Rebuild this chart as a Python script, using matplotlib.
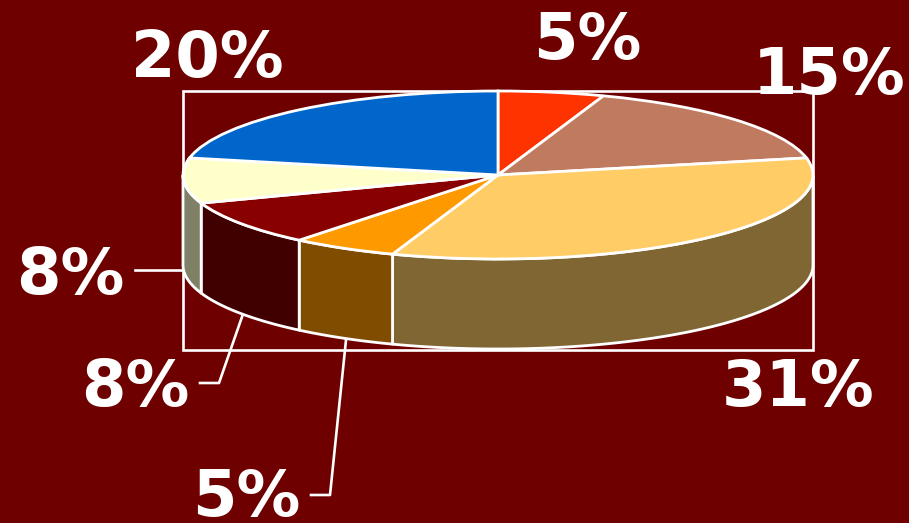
import numpy as np
import matplotlib
matplotlib.use("Agg")
import matplotlib.pyplot as plt
from matplotlib.patches import Polygon, Rectangle

shares = [5, 15, 31, 5, 8, 8, 20]
labels = ["5%", "15%", "31%", "5%", "8%", "8%", "20%"]
top_colors = ["#FF3300", "#BF7A60", "#FFCC66", "#FF9900", "#880000", "#FFFFCC", "#0066CC"]
side_colors = ["#801A00", "#603D30", "#806633", "#804D00", "#400000", "#808066", "#003366"]
label_xy = [(587, 59), (829, 94), (798, 406), (246, 516), (135, 406), (70, 294), (207, 77)]

W, H = 909, 523
BG = "#6F0000"
CX, CY, RX, RY, DEPTH = 498, 175, 315, 84, 90

fig = plt.figure(figsize=(W / 100, H / 100), dpi=100, facecolor=BG)
px = fig.add_axes([0, 0, 1, 1])
px.set_xlim(0, W)
px.set_ylim(H, 0)
px.axis("off")

ax = fig.add_axes([0, 0, 1, 1])
ax.patch.set_alpha(0)

# Side wall: one band per slice, clipped to the front half of the rim
fracs = np.cumsum([0] + shares) / sum(shares)
for i in range(len(shares)):
    a0, a1 = fracs[i] * 2 * np.pi, fracs[i + 1] * 2 * np.pi
    t = np.linspace(a0, a1, 200)
    t = t[(t > np.pi / 2) & (t < 3 * np.pi / 2)]
    if t.size < 2:
        continue
    x = np.sin(t)
    y = np.cos(t)
    low = y - DEPTH / RY
    ax.add_patch(Polygon(np.c_[np.r_[x, x[::-1]], np.r_[y, low[::-1]]], closed=True,
                         fc=side_colors[i], ec="white", lw=2, joinstyle="round", zorder=1))

wedges, _ = ax.pie(shares, colors=top_colors, startangle=90, counterclock=False, radius=1,
                   wedgeprops=dict(edgecolor="white", linewidth=2))
for w in wedges:
    w.set_zorder(2)
ax.set_aspect("auto")
ax.set_xlim((0 - CX) / RX, (W - CX) / RX)
ax.set_ylim((CY - H) / RY, CY / RY)
ax.axis("off")

px.add_patch(Rectangle((183, 91), 630, 259, fc="none", ec="white", lw=1.9, zorder=5))
px.plot([135, 183], [270, 270], color="white", lw=1.9)
px.plot([200, 219, 243], [383, 383, 314], color="white", lw=1.9)
px.plot([311, 330, 346], [495, 495, 340], color="white", lw=1.9)

for s, (x, y) in zip(labels, label_xy):
    px.text(x, y, s, color="white", fontsize=46, fontweight="bold", family="DejaVu Sans",
            ha="center", va="baseline", zorder=6)

fig.savefig("out.png", dpi=100, facecolor=BG)
